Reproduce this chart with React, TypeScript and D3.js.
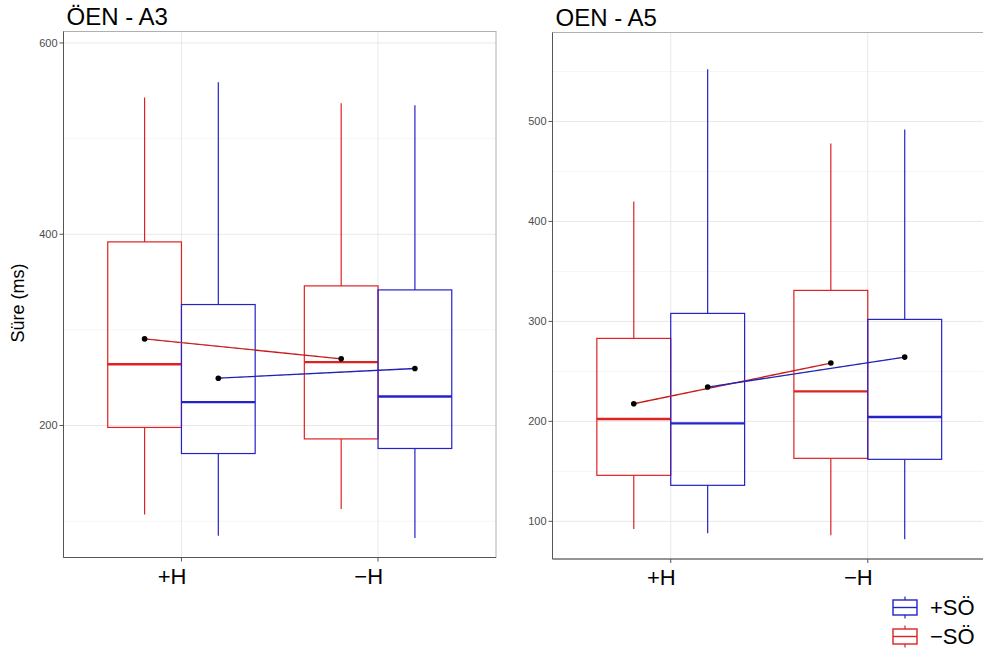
import React from 'react';
import * as d3 from 'd3';

// categories and series
const groups = ['+H', '−H'];
const seriesNames = ['−SÖ', '+SÖ'];
const seriesColors = ['#dd2222', '#2323c8'];

// ÖEN - A3, index follows groups
const a3RedLow = [107, 112.6];
const a3RedQ1 = [198, 186];
const a3RedMed = [264, 266.3];
const a3RedQ3 = [392, 346];
const a3RedHigh = [543, 537];
const a3RedMean = [290.6, 269.7];

const a3BlueLow = [84.7, 82.3];
const a3BlueQ1 = [170.7, 176];
const a3BlueMed = [224.5, 230.3];
const a3BlueQ3 = [326.5, 341.8];
const a3BlueHigh = [559, 535];
const a3BlueMean = [249.5, 259.6];

// OEN - A5
const a5RedLow = [92.3, 86];
const a5RedQ1 = [146, 163];
const a5RedMed = [202.3, 230];
const a5RedQ3 = [283, 331];
const a5RedHigh = [420, 478];
const a5RedMean = [217.6, 258.3];

const a5BlueLow = [88, 82];
const a5BlueQ1 = [136, 162];
const a5BlueMed = [198, 204.3];
const a5BlueQ3 = [308, 302];
const a5BlueHigh = [552.3, 492];
const a5BlueMean = [234.3, 264.3];

const a3Ticks = [200, 400, 600];
const a5Ticks = [100, 200, 300, 400, 500];

const FONT = '"Liberation Sans", Arial, sans-serif';

const buildSeries = (low, q1, med, q3, high, mean) =>
    groups.map((g, i) => ({ group: g, low: low[i], q1: q1[i], med: med[i], q3: q3[i], high: high[i], mean: mean[i] }));

const Panel = (props) => {
    const { id, title, left, right, top, bottom, yDomain, ticks, minor, data } = props;
    var x = d3.scaleLinear().domain([0.4, 2.6]).range([left, right]);
    var y = d3.scaleLinear().domain(yDomain).range([bottom, top]);
    var dodge = 0.75;
    var boxW = (x(1 + dodge / 2) - x(1));
    var offsets = [-dodge / 4, dodge / 4];

    return (
        <g>
            <defs>
                <clipPath id={'clip-' + id}>
                    <rect x={left} y={top} width={right - left} height={bottom - top} />
                </clipPath>
            </defs>
            <rect x={left} y={top} width={right - left} height={bottom - top} fill="white" />
            {minor.map((t) => (
                <line key={'mn' + t} x1={left} x2={right} y1={y(t)} y2={y(t)} stroke="#f3f3f3" strokeWidth={0.8} />
            ))}
            {ticks.map((t) => (
                <line key={'mj' + t} x1={left} x2={right} y1={y(t)} y2={y(t)} stroke="#e8e8e8" strokeWidth={1} />
            ))}
            {groups.map((g, i) => (
                <line key={'vg' + g} x1={x(i + 1)} x2={x(i + 1)} y1={top} y2={bottom} stroke="#e8e8e8" strokeWidth={1} />
            ))}
            <rect x={left} y={top} width={right - left} height={bottom - top} fill="none" stroke="#b0b0b0" strokeWidth={1} />
            <g clipPath={'url(#clip-' + id + ')'}>
                {data.map((s, si) => (
                    <g key={'s' + si}>
                        {s.map((d, gi) => {
                            var cx = x(gi + 1 + offsets[si]);
                            var col = seriesColors[si];
                            return (
                                <g key={'b' + gi}>
                                    <line x1={cx} x2={cx} y1={y(d.high)} y2={y(d.q3)} stroke={col} strokeWidth={1.2} />
                                    <line x1={cx} x2={cx} y1={y(d.q1)} y2={y(d.low)} stroke={col} strokeWidth={1.2} />
                                    <rect x={cx - boxW / 2} y={y(d.q3)} width={boxW} height={y(d.q1) - y(d.q3)}
                                        fill="none" stroke={col} strokeWidth={1.2} />
                                    <line x1={cx - boxW / 2} x2={cx + boxW / 2} y1={y(d.med)} y2={y(d.med)} stroke={col} strokeWidth={2.4} />
                                </g>
                            );
                        })}
                    </g>
                ))}
                {data.map((s, si) => {
                    var line = d3.line()
                        .x((d, gi) => x(gi + 1 + offsets[si]))
                        .y((d) => y(d.mean));
                    return (
                        <g key={'m' + si}>
                            <path d={line(s)} fill="none" stroke={seriesColors[si]} strokeWidth={1.3} />
                            <path d={line(s)} fill="none" stroke="#222" strokeWidth={0.6} strokeDasharray="5,5" opacity={0.5} />
                            {s.map((d, gi) => (
                                <circle key={'p' + gi} cx={x(gi + 1 + offsets[si])} cy={y(d.mean)} r={2.8} fill="black" />
                            ))}
                        </g>
                    );
                })}
            </g>
            <line x1={left} x2={left} y1={top} y2={bottom} stroke="#555" strokeWidth={1} />
            <line x1={left} x2={right} y1={bottom} y2={bottom} stroke="#555" strokeWidth={1} />
            {ticks.map((t) => (
                <g key={'yt' + t}>
                    <line x1={left - 4} x2={left} y1={y(t)} y2={y(t)} stroke="#555" strokeWidth={1} />
                    <text x={left - 6} y={y(t)} dy="0.35em" textAnchor="end" fontSize={11} fill="#4d4d4d" fontFamily={FONT}>{t}</text>
                </g>
            ))}
            {groups.map((g, i) => (
                <g key={'xt' + g}>
                    <line x1={x(i + 1)} x2={x(i + 1)} y1={bottom} y2={bottom + 4} stroke="#555" strokeWidth={1} />
                    <text x={x(i + 1) + 5} y={bottom + 26} textAnchor="end" fontSize={22} fill="black" fontFamily={FONT}>{g}</text>
                </g>
            ))}
            <text x={left + 3} y={top - 7} fontSize={24} fill="black" fontFamily={FONT}>{title}</text>
        </g>
    );
};

const LegendKey = (props) => {
    const { x0, y0, color, label } = props;
    return (
        <g>
            <line x1={x0 + 12} x2={x0 + 12} y1={y0 - 11} y2={y0 + 11} stroke={color} strokeWidth={1.2} />
            <rect x={x0} y={y0 - 7.5} width={24} height={15} fill="white" stroke={color} strokeWidth={1.4} />
            <line x1={x0} x2={x0 + 24} y1={y0} y2={y0} stroke={color} strokeWidth={1.4} />
            <text x={x0 + 37} y={y0} dy="0.35em" fontSize={22} fill="black" fontFamily={FONT}>{label}</text>
        </g>
    );
};

export default function App() {
    const a3Data = [
        buildSeries(a3RedLow, a3RedQ1, a3RedMed, a3RedQ3, a3RedHigh, a3RedMean),
        buildSeries(a3BlueLow, a3BlueQ1, a3BlueMed, a3BlueQ3, a3BlueHigh, a3BlueMean),
    ];
    const a5Data = [
        buildSeries(a5RedLow, a5RedQ1, a5RedMed, a5RedQ3, a5RedHigh, a5RedMean),
        buildSeries(a5BlueLow, a5BlueQ1, a5BlueMed, a5BlueQ3, a5BlueHigh, a5BlueMean),
    ];
    return (
        <svg width={983} height={657} style={{ position: 'absolute', left: 0, top: 0, background: 'white' }}>
            <rect x={0} y={0} width={983} height={657} fill="white" />
            <Panel id="a3" title="ÖEN - A3" left={63.5} right={496} top={31.5} bottom={557.5}
                yDomain={[62, 612]} ticks={a3Ticks} minor={[100, 300, 500]} data={a3Data} />
            <Panel id="a5" title="OEN - A5" left={552.5} right={986} top={32.5} bottom={559}
                yDomain={[62.3, 589]} ticks={a5Ticks} minor={[150, 250, 350, 450, 550]} data={a5Data} />
            <text transform="translate(24,303) rotate(-90)" textAnchor="middle" fontSize={18} fill="black" fontFamily={FONT}>Süre (ms)</text>
            <LegendKey x0={893} y0={607.5} color={seriesColors[1]} label={seriesNames[1]} />
            <LegendKey x0={893} y0={636.5} color={seriesColors[0]} label={seriesNames[0]} />
        </svg>
    );
}
